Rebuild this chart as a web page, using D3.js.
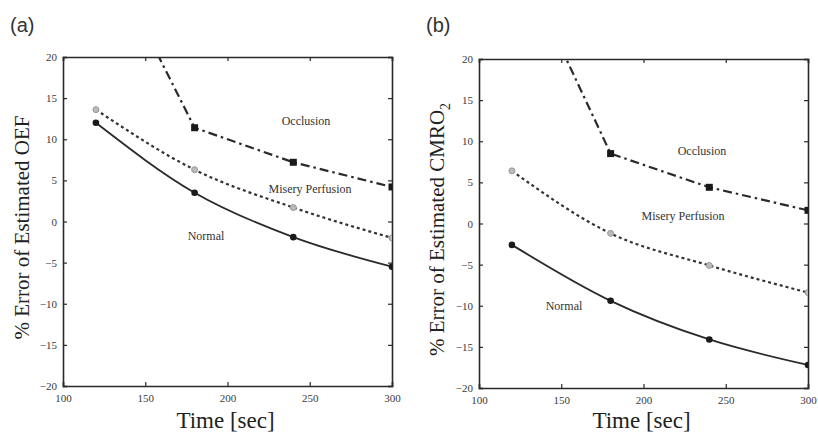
<!DOCTYPE html>
<html>
<head>
<meta charset="utf-8">
<script src="https://cdn.jsdelivr.net/npm/d3@7"></script>
<style>
  body { margin: 0; background: #fff; }
  svg { display: block; }
</style>
</head>
<body>
<svg id="chart" width="818" height="434"></svg>
<script>
// ---- Data ----
const times = [120, 180, 240, 300];
const xTicks = [100, 150, 200, 250, 300];
const yTicks = [-20, -15, -10, -5, 0, 5, 10, 15, 20];

// Panel (a): % error of estimated OEF
const oefNormal = [12.0, 3.5, -1.9, -5.5];
const oefMisery = [13.6, 6.3, 1.7, -2.0];
const oefOcclusion = [35.2, 11.4, 7.2, 4.2];

// Panel (b): % error of estimated CMRO2
const cmroNormal = [-2.6, -9.4, -14.1, -17.2];
const cmroMisery = [6.4, -1.2, -5.1, -8.4];
const cmroOcclusion = [34.1, 8.5, 4.4, 1.6];

const panels = [
  { tag: "(a)", tagX: 10, left: 63, right: 392, top: 57, bottom: 386,
    ylabel: "% Error of Estimated OEF", ylabelX: 29,
    normal: oefNormal, misery: oefMisery, occlusion: oefOcclusion,
    labels: { occ: [306, 121], mis: [310, 189], nor: [206, 236] } },
  { tag: "(b)", tagX: 426, left: 479, right: 808, top: 59, bottom: 388,
    ylabel: "% Error of Estimated CMRO", sub: "2", ylabelX: 444,
    normal: cmroNormal, misery: cmroMisery, occlusion: cmroOcclusion,
    labels: { occ: [702, 151], mis: [683, 216], nor: [564, 306] } }
];

const svg = d3.select("#chart");
const ink = "#2a2a2a";

panels.forEach((p, pi) => {
  const x = d3.scaleLinear().domain([100, 300]).range([p.left, p.right]);
  const y = d3.scaleLinear().domain([-20, 20]).range([p.bottom, p.top]);
  const g = svg.append("g");

  const clipId = "clip" + pi;
  svg.append("defs").append("clipPath").attr("id", clipId)
    .append("rect").attr("x", p.left).attr("y", p.top)
    .attr("width", p.right - p.left).attr("height", p.bottom - p.top);

  // Panel tag
  g.append("text").attr("x", p.tagX).attr("y", 32)
    .attr("font-family", "Liberation Sans, Arial, sans-serif")
    .attr("font-size", 20).attr("fill", "#333").text(p.tag);

  // Axes (box with inward ticks)
  const axB = d3.axisBottom(x).tickValues(xTicks).tickSize(-4).tickPadding(8).tickFormat(d3.format("d"));
  const axT = d3.axisTop(x).tickValues(xTicks).tickSize(-4).tickFormat("");
  const axL = d3.axisLeft(y).tickValues(yTicks).tickSize(-4).tickPadding(6).tickFormat(d3.format("d"));
  const axR = d3.axisRight(y).tickValues(yTicks).tickSize(-4).tickFormat("");

  const styleAxis = sel => {
    sel.select(".domain").attr("stroke", ink).attr("stroke-width", 1.6);
    sel.selectAll(".tick line").attr("stroke", ink).attr("stroke-width", 1.2);
    sel.selectAll("text").attr("font-family", "Liberation Serif, Times New Roman, serif")
      .attr("font-size", 11).attr("fill", "#3a3a3a");
  };
  g.append("g").attr("transform", `translate(0,${p.bottom})`).call(axB).call(styleAxis);
  g.append("g").attr("transform", `translate(0,${p.top})`).call(axT).call(styleAxis);
  g.append("g").attr("transform", `translate(${p.left},0)`).call(axL).call(styleAxis);
  g.append("g").attr("transform", `translate(${p.right},0)`).call(axR).call(styleAxis);

  // Axis titles
  g.append("text").attr("x", (p.left + p.right) / 2 - 2).attr("y", 428)
    .attr("text-anchor", "middle")
    .attr("font-family", "Liberation Serif, Times New Roman, serif")
    .attr("font-size", 23).attr("fill", "#222").text("Time [sec]");

  const yl = g.append("text")
    .attr("transform", `translate(${p.ylabelX},${(p.top + p.bottom) / 2 + 6}) rotate(-90)`)
    .attr("text-anchor", "middle")
    .attr("font-family", "Liberation Serif, Times New Roman, serif")
    .attr("font-size", 21).attr("fill", "#222").text(p.ylabel);
  if (p.sub) yl.append("tspan").attr("font-size", 14).attr("dy", 6).text(p.sub);

  const curved = d3.line().x((d, i) => x(times[i])).y(d => y(d)).curve(d3.curveMonotoneX);
  const straight = d3.line().x((d, i) => x(times[i])).y(d => y(d));
  const plot = g.append("g").attr("clip-path", `url(#${clipId})`);

  // Occlusion (dash-dot)
  plot.append("path").attr("d", straight(p.occlusion)).attr("fill", "none")
    .attr("stroke", ink).attr("stroke-width", 2.2)
    .attr("stroke-dasharray", "9,4,2.5,4");
  // Misery perfusion (dotted)
  plot.append("path").attr("d", curved(p.misery)).attr("fill", "none")
    .attr("stroke", "#333").attr("stroke-width", 2.2)
    .attr("stroke-dasharray", "3,3");
  // Normal (solid)
  plot.append("path").attr("d", curved(p.normal)).attr("fill", "none")
    .attr("stroke", ink).attr("stroke-width", 1.8);

  // Markers
  plot.selectAll(".mocc").data(p.occlusion).enter().append("rect")
    .attr("x", (d, i) => x(times[i]) - 3.5).attr("y", d => y(d) - 3.5)
    .attr("width", 7).attr("height", 7).attr("fill", "#1a1a1a");
  plot.selectAll(".mmis").data(p.misery).enter().append("circle")
    .attr("cx", (d, i) => x(times[i])).attr("cy", d => y(d)).attr("r", 3)
    .attr("fill", "#bbb").attr("stroke", "#999").attr("stroke-width", 1);
  plot.selectAll(".mnor").data(p.normal).enter().append("circle")
    .attr("cx", (d, i) => x(times[i])).attr("cy", d => y(d)).attr("r", 3.3)
    .attr("fill", "#1a1a1a");

  // Series labels
  const lab = (pos, txt) => g.append("text").attr("x", pos[0]).attr("y", pos[1] + 4)
    .attr("text-anchor", "middle")
    .attr("font-family", "Liberation Serif, Times New Roman, serif")
    .attr("font-size", 12).attr("fill", "#333").text(txt);
  lab(p.labels.occ, "Occlusion");
  lab(p.labels.mis, "Misery Perfusion");
  lab(p.labels.nor, "Normal");
});
</script>
</body>
</html>
